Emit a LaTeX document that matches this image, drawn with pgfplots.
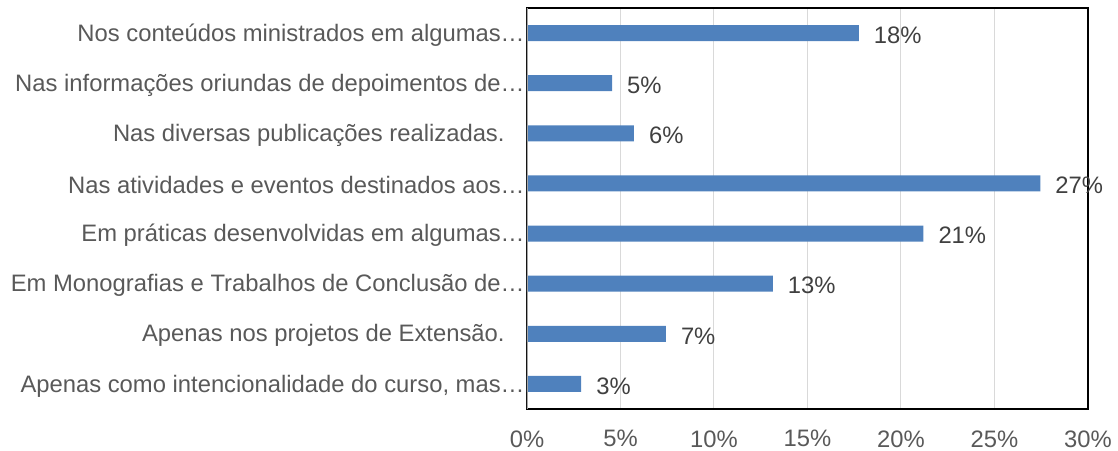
\documentclass[border=0pt]{standalone}
\usepackage{fontspec}
\setmainfont{Liberation Sans}
\usepackage{pgfplots}
\pgfplotsset{compat=1.18}
\definecolor{barblue}{RGB}{79,129,189}
\definecolor{gridgray}{RGB}{217,217,217}
\definecolor{labelgray}{RGB}{89,89,89}
\definecolor{valgray}{RGB}{64,64,64}
\begin{document}
\begin{tikzpicture}
  % 1 px of the reference = 0.5pt
  \path[use as bounding box] (-263.5pt,-20.5pt) rectangle (295.5pt,204.5pt);
  \begin{axis}[
    at={(0,0)}, anchor=south west,
    scale only axis, width=280.5pt, height=200.5pt,
    xbar, bar width=8pt,
    xmin=0, xmax=30, ymin=-0.5, ymax=7.5,
    y dir=reverse,
    xtick={0,5,...,30},
    xticklabel={\pgfmathprintnumber{\tick}\%},
    ytick={0,...,7},
    yticklabels={
      Nos conteúdos ministrados em algumas…,
      Nas informações oriundas de depoimentos de…,
      Nas diversas publicações realizadas.\hspace*{10pt}\null,
      Nas atividades e eventos destinados aos…,
      Em práticas desenvolvidas em algumas…,
      Em Monografias e Trabalhos de Conclusão de…,
      Apenas nos projetos de Extensão.\hspace*{10pt}\null,
      Apenas como intencionalidade do curso{,} mas…},
    major tick length=0pt,
    font=\fontsize{11.9}{13}\selectfont,
    /pgf/number format/assume math mode=true,
    yticklabel style={text=labelgray, inner sep=0pt, xshift=-1pt, yshift=-1pt, anchor=east},
    xticklabel style={text=labelgray, inner sep=0pt, yshift=-10.5pt},
    xmajorgrids, grid style={gridgray, line width=0.5pt},
    axis line style={black, line width=0.9pt},
    point meta=explicit symbolic,
    nodes near coords,
    nodes near coords style={text=valgray, anchor=west, xshift=4pt, yshift=-1pt},
  ]
  \addplot[fill=barblue, draw=none] coordinates {
    (17.75,0) [18\%]
    (4.55,1) [5\%]
    (5.72,2) [6\%]
    (27.45,3) [27\%]
    (21.2,4) [21\%]
    (13.15,5) [13\%]
    (7.43,6) [7\%]
    (2.9,7) [3\%]
  };
  \draw[gray!70, line width=0.8pt] (axis cs:0,-0.5) -- (axis cs:0,7.5);
  \end{axis}
\end{tikzpicture}
\end{document}
